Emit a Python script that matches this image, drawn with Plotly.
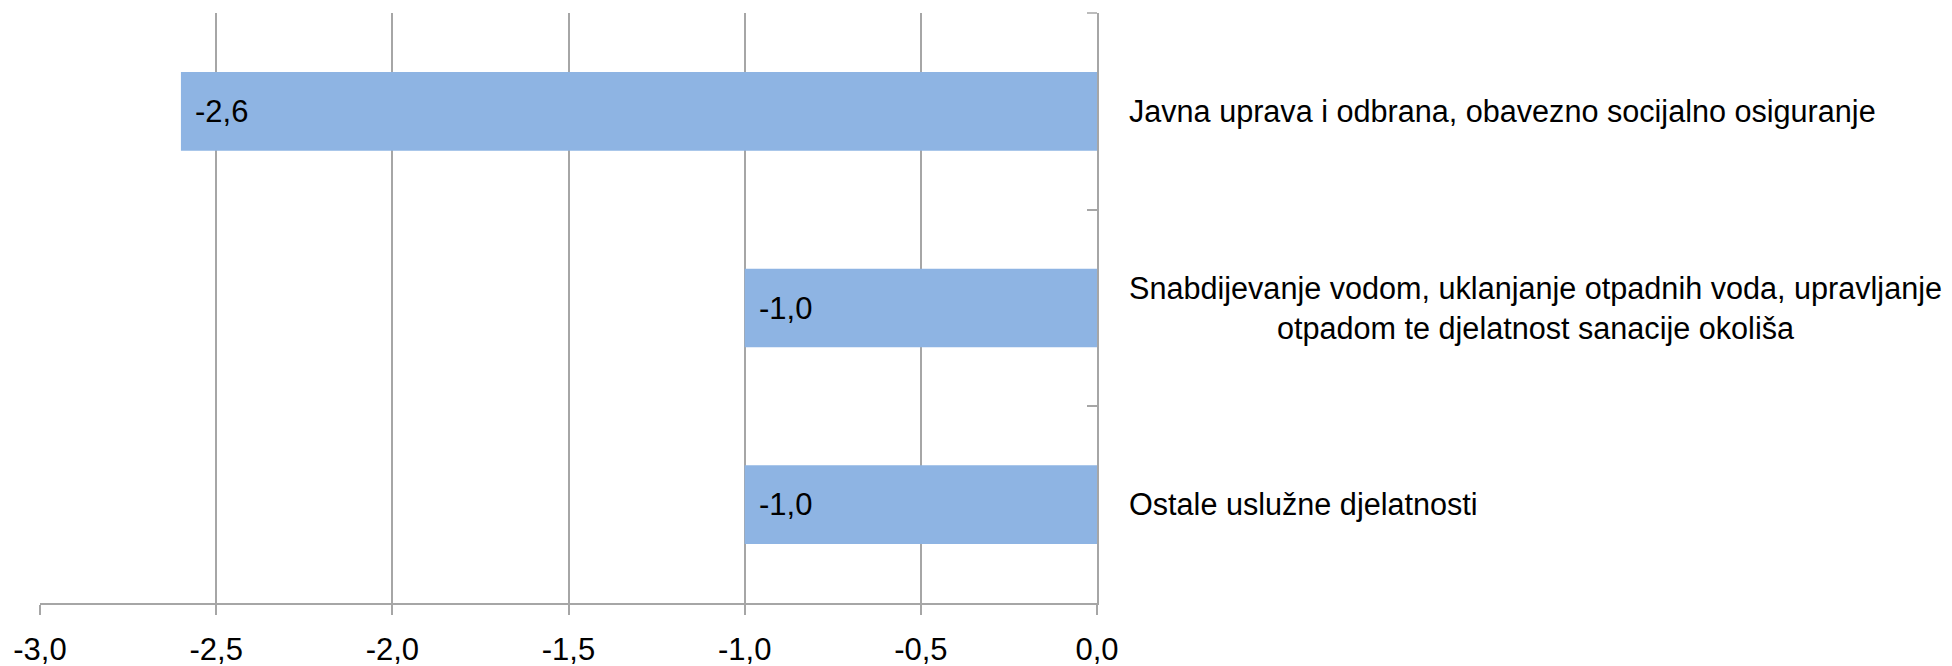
import plotly.graph_objects as go

categories = [
    "Javna uprava i odbrana, obavezno socijalno osiguranje",
    "Snabdijevanje vodom, uklanjanje otpadnih voda, upravljanje<br>otpadom te djelatnost sanacije okoliša",
    "Ostale uslužne djelatnosti",
]
values = [-2.6, -1.0, -1.0]
value_labels = ["-2,6", "-1,0", "-1,0"]
x_ticks = [-3.0, -2.5, -2.0, -1.5, -1.0, -0.5, 0.0]
x_tick_labels = ["-3,0", "-2,5", "-2,0", "-1,5", "-1,0", "-0,5", "0,0"]

FONT = "Liberation Sans Narrow, Arial Narrow, Liberation Sans, Arial, sans-serif"
FS = 31
FS_CAT = 30.6
GRID = "#a6a6a6"

fig = go.Figure()
fig.add_trace(go.Bar(
    y=categories, x=values, orientation="h",
    marker=dict(color="#8EB4E3", line=dict(width=0)),
    width=0.4, hoverinfo="skip",
))

for c, v, t in zip(categories, values, value_labels):
    fig.add_annotation(x=v, y=c, xref="x", yref="y", text=t, showarrow=False,
                       xanchor="left", yanchor="middle", xshift=12,
                       font=dict(family=FONT, size=FS, color="black"))
    fig.add_annotation(x=0, y=c, xref="x", yref="y", text=c, showarrow=False,
                       xanchor="left", yanchor="middle", xshift=30, align="center",
                       font=dict(family=FONT, size=FS_CAT, color="black"))

# top boundary tick on the category axis
fig.add_shape(type="line", xref="x", yref="paper", xsizemode="pixel", xanchor=0,
              x0=-10, x1=0, y0=1, y1=1, line=dict(color=GRID, width=1.5))

fig.update_layout(
    width=1944, height=658,
    margin=dict(l=32, r=855, t=5, b=63),
    plot_bgcolor="white", paper_bgcolor="white",
    showlegend=False,
    font=dict(family=FONT, size=FS, color="black"),
)
fig.update_xaxes(
    range=[-3, 0], tickvals=x_ticks, ticktext=x_tick_labels,
    showgrid=True, gridcolor=GRID, gridwidth=1.5,
    showline=True, linecolor=GRID, linewidth=2,
    ticks="outside", ticklen=10, tickcolor=GRID, tickwidth=1.5,
    ticklabelstandoff=8, automargin=False,
    zeroline=False, tickfont=dict(family=FONT, size=FS, color="black"),
)
fig.update_yaxes(
    autorange="reversed", side="right", automargin=False,
    showticklabels=False, showgrid=False, zeroline=False,
    showline=True, linecolor=GRID, linewidth=1.5,
    ticks="inside", tickson="boundaries", ticklen=10, tickcolor=GRID, tickwidth=1.5,
)

fig.write_html("out.html")
